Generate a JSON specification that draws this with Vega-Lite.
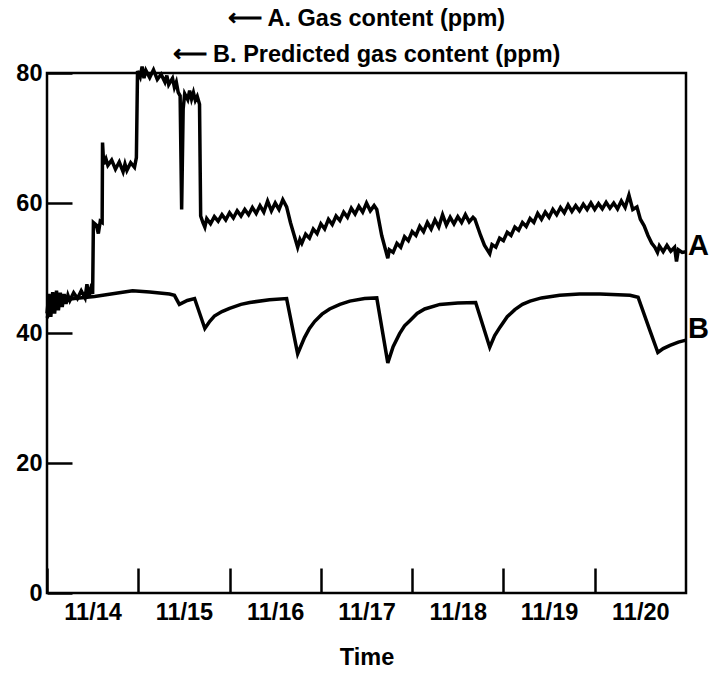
{
  "$schema": "https://vega.github.io/schema/vega-lite/v6.json",
  "width": 639,
  "height": 520,
  "autosize": "none",
  "padding": {"left": 47, "top": 73, "right": 25, "bottom": 80},
  "background": "white",
  "config": {
    "font": "Liberation Sans",
    "view": {"stroke": "black", "strokeWidth": 2.5},
    "axis": {"grid": false, "domain": false, "labelFont": "Liberation Sans", "titleFont": "Liberation Sans", "labelFontWeight": "bold", "titleFontWeight": "bold", "labelColor": "black", "titleColor": "black", "tickColor": "black", "tickWidth": 2.5, "labelFontSize": 23.5, "titleFontSize": 23.5}
  },
  "title": {
    "text": "⟵ A. Gas content (ppm)",
    "subtitle": "⟵ B. Predicted gas content (ppm)",
    "anchor": "middle",
    "frame": "group",
    "font": "Liberation Sans",
    "subtitleFont": "Liberation Sans",
    "fontSize": 23.5,
    "subtitleFontSize": 23.5,
    "fontWeight": "bold",
    "subtitleFontWeight": "bold",
    "color": "black",
    "subtitleColor": "black",
    "offset": -7,
    "subtitlePadding": 13
  },
  "datasets": {
    "a": [
      {"t": 0, "ppm": 43.0}, {"t": 0.5, "ppm": 46.0}, {"t": 1, "ppm": 42.5}, {"t": 1.5, "ppm": 46.3}, {"t": 2, "ppm": 43.0}, {"t": 2.5, "ppm": 46.5}, {"t": 3, "ppm": 43.5}, {"t": 3.5, "ppm": 46.2}, {"t": 4, "ppm": 44.0}, {"t": 4.5, "ppm": 46.0}, {"t": 5, "ppm": 44.5}, {"t": 5.5, "ppm": 45.8}, {"t": 6, "ppm": 45.0}, {"t": 7, "ppm": 46.2}, {"t": 8, "ppm": 45.3}, {"t": 9, "ppm": 46.5}, {"t": 10, "ppm": 45.4}, {"t": 10.5, "ppm": 47.5}, {"t": 11, "ppm": 45.6}, {"t": 11.5, "ppm": 46.8}, {"t": 12, "ppm": 46.0},
      {"t": 12.2, "ppm": 57.0}, {"t": 13, "ppm": 56.6}, {"t": 13.5, "ppm": 55.3}, {"t": 14, "ppm": 57.2}, {"t": 14.5, "ppm": 57.0},
      {"t": 14.6, "ppm": 69.3}, {"t": 14.9, "ppm": 66.0}, {"t": 15.5, "ppm": 66.8}, {"t": 16, "ppm": 65.8}, {"t": 17, "ppm": 66.6}, {"t": 18, "ppm": 65.2}, {"t": 19, "ppm": 66.3}, {"t": 20, "ppm": 64.8}, {"t": 20.5, "ppm": 66.0}, {"t": 21, "ppm": 65.0}, {"t": 22, "ppm": 66.2}, {"t": 23, "ppm": 65.5}, {"t": 23.5, "ppm": 67.0},
      {"t": 23.8, "ppm": 80.3}, {"t": 24.5, "ppm": 79.4}, {"t": 25, "ppm": 81.0}, {"t": 25.5, "ppm": 79.2}, {"t": 26, "ppm": 80.4}, {"t": 27, "ppm": 79.3}, {"t": 28, "ppm": 80.5}, {"t": 29, "ppm": 79.0}, {"t": 30, "ppm": 79.8}, {"t": 31, "ppm": 78.6}, {"t": 31.5, "ppm": 79.6}, {"t": 32, "ppm": 78.2}, {"t": 33, "ppm": 79.2}, {"t": 33.5, "ppm": 77.8}, {"t": 34, "ppm": 78.6}, {"t": 34.5, "ppm": 77.0}, {"t": 35, "ppm": 76.5},
      {"t": 35.4, "ppm": 59.0}, {"t": 35.8, "ppm": 74.5}, {"t": 36.2, "ppm": 76.8}, {"t": 37, "ppm": 75.9}, {"t": 37.5, "ppm": 77.3}, {"t": 38, "ppm": 76.0}, {"t": 38.5, "ppm": 77.0}, {"t": 39, "ppm": 75.8}, {"t": 39.5, "ppm": 76.4}, {"t": 40.1, "ppm": 75.2},
      {"t": 40.4, "ppm": 58.0}, {"t": 41, "ppm": 57.0}, {"t": 41.5, "ppm": 56.3}, {"t": 42, "ppm": 57.6}, {"t": 43, "ppm": 56.8}, {"t": 44, "ppm": 57.9}, {"t": 45, "ppm": 57.2}, {"t": 46, "ppm": 58.2}, {"t": 47, "ppm": 57.4}, {"t": 48, "ppm": 58.5}, {"t": 49, "ppm": 57.7}, {"t": 50, "ppm": 58.8}, {"t": 51, "ppm": 58.0}, {"t": 52, "ppm": 59.0}, {"t": 53, "ppm": 58.2}, {"t": 54, "ppm": 59.3}, {"t": 55, "ppm": 58.4}, {"t": 56, "ppm": 59.6}, {"t": 57, "ppm": 58.6}, {"t": 58, "ppm": 60.3}, {"t": 59, "ppm": 58.8}, {"t": 60, "ppm": 60.0}, {"t": 61, "ppm": 59.0}, {"t": 62, "ppm": 60.5}, {"t": 63, "ppm": 59.4},
      {"t": 64, "ppm": 57.0}, {"t": 65, "ppm": 55.0}, {"t": 65.9, "ppm": 53.2}, {"t": 66.5, "ppm": 54.4}, {"t": 67, "ppm": 53.8}, {"t": 68, "ppm": 55.2}, {"t": 69, "ppm": 54.6}, {"t": 70, "ppm": 56.0}, {"t": 71, "ppm": 55.3}, {"t": 72, "ppm": 56.8}, {"t": 73, "ppm": 56.0}, {"t": 74, "ppm": 57.5}, {"t": 75, "ppm": 56.7}, {"t": 76, "ppm": 58.0}, {"t": 77, "ppm": 57.3}, {"t": 78, "ppm": 58.6}, {"t": 79, "ppm": 57.8}, {"t": 80, "ppm": 59.2}, {"t": 81, "ppm": 58.3}, {"t": 82, "ppm": 59.5}, {"t": 83, "ppm": 58.6}, {"t": 84, "ppm": 60.0}, {"t": 85, "ppm": 58.8}, {"t": 86, "ppm": 59.6}, {"t": 86.7, "ppm": 59.0},
      {"t": 88, "ppm": 55.0}, {"t": 89.6, "ppm": 51.5}, {"t": 90, "ppm": 52.8}, {"t": 91, "ppm": 52.4}, {"t": 92, "ppm": 53.8}, {"t": 93, "ppm": 53.2}, {"t": 94, "ppm": 54.8}, {"t": 95, "ppm": 54.2}, {"t": 96, "ppm": 55.6}, {"t": 97, "ppm": 55.0}, {"t": 98, "ppm": 56.4}, {"t": 99, "ppm": 55.6}, {"t": 100, "ppm": 57.0}, {"t": 101, "ppm": 56.0}, {"t": 102, "ppm": 57.4}, {"t": 103, "ppm": 56.3}, {"t": 104, "ppm": 58.2}, {"t": 105, "ppm": 56.6}, {"t": 106, "ppm": 57.8}, {"t": 107, "ppm": 56.8}, {"t": 108, "ppm": 57.9}, {"t": 109, "ppm": 57.0}, {"t": 110, "ppm": 58.2}, {"t": 111, "ppm": 57.1}, {"t": 112, "ppm": 57.8}, {"t": 112.5, "ppm": 57.5},
      {"t": 114, "ppm": 55.0}, {"t": 115, "ppm": 53.5}, {"t": 116.4, "ppm": 52.2}, {"t": 117, "ppm": 53.6}, {"t": 118, "ppm": 53.2}, {"t": 119, "ppm": 54.6}, {"t": 120, "ppm": 54.2}, {"t": 121, "ppm": 55.5}, {"t": 122, "ppm": 55.0}, {"t": 123, "ppm": 56.3}, {"t": 124, "ppm": 55.8}, {"t": 125, "ppm": 57.0}, {"t": 126, "ppm": 56.4}, {"t": 127, "ppm": 57.6}, {"t": 128, "ppm": 57.0}, {"t": 129, "ppm": 58.4}, {"t": 130, "ppm": 57.5}, {"t": 131, "ppm": 58.6}, {"t": 132, "ppm": 57.8}, {"t": 133, "ppm": 59.0}, {"t": 134, "ppm": 58.2}, {"t": 135, "ppm": 59.3}, {"t": 136, "ppm": 58.5}, {"t": 137, "ppm": 59.7}, {"t": 138, "ppm": 58.7}, {"t": 139, "ppm": 59.6}, {"t": 140, "ppm": 58.8}, {"t": 141, "ppm": 59.8}, {"t": 142, "ppm": 59.0}, {"t": 143, "ppm": 60.0}, {"t": 144, "ppm": 59.0}, {"t": 145, "ppm": 59.9}, {"t": 146, "ppm": 59.1}, {"t": 147, "ppm": 60.1}, {"t": 148, "ppm": 59.2}, {"t": 149, "ppm": 60.0}, {"t": 150, "ppm": 59.1}, {"t": 151, "ppm": 60.3}, {"t": 152, "ppm": 59.3}, {"t": 153, "ppm": 61.2}, {"t": 154, "ppm": 59.0}, {"t": 155.1, "ppm": 59.4},
      {"t": 156, "ppm": 57.5}, {"t": 157, "ppm": 56.5}, {"t": 158, "ppm": 55.0}, {"t": 159, "ppm": 53.8}, {"t": 159.8, "ppm": 53.2}, {"t": 160.5, "ppm": 52.4}, {"t": 161, "ppm": 53.4}, {"t": 162, "ppm": 52.5}, {"t": 163, "ppm": 53.5}, {"t": 164, "ppm": 52.6}, {"t": 165, "ppm": 53.2}, {"t": 165.5, "ppm": 51.0}, {"t": 166, "ppm": 52.8}, {"t": 167, "ppm": 52.4}, {"t": 168, "ppm": 52.5}
    ],
    "b": [
      {"t": 0, "ppm": 42.3}, {"t": 1.4, "ppm": 44.0}, {"t": 3.3, "ppm": 45.0}, {"t": 7.2, "ppm": 45.3}, {"t": 12.5, "ppm": 45.6}, {"t": 19, "ppm": 46.2}, {"t": 22.5, "ppm": 46.5}, {"t": 27, "ppm": 46.3}, {"t": 32.2, "ppm": 46.0}, {"t": 33.5, "ppm": 45.8}, {"t": 34.8, "ppm": 44.4}, {"t": 36.9, "ppm": 45.0}, {"t": 38.8, "ppm": 45.3},
      {"t": 41.5, "ppm": 40.7}, {"t": 42.8, "ppm": 41.8}, {"t": 44, "ppm": 42.6}, {"t": 46, "ppm": 43.3}, {"t": 48, "ppm": 43.8}, {"t": 51, "ppm": 44.4}, {"t": 53.3, "ppm": 44.7}, {"t": 58.5, "ppm": 45.1}, {"t": 63, "ppm": 45.3},
      {"t": 65.9, "ppm": 36.8}, {"t": 67.7, "ppm": 39.3}, {"t": 69, "ppm": 40.7}, {"t": 70.4, "ppm": 41.8}, {"t": 72.3, "ppm": 42.9}, {"t": 74.3, "ppm": 43.7}, {"t": 77, "ppm": 44.4}, {"t": 79.6, "ppm": 44.9}, {"t": 83.5, "ppm": 45.3}, {"t": 86.7, "ppm": 45.4},
      {"t": 89.6, "ppm": 35.4}, {"t": 91, "ppm": 37.9}, {"t": 92.7, "ppm": 39.9}, {"t": 94, "ppm": 41.1}, {"t": 95.4, "ppm": 41.9}, {"t": 97.3, "ppm": 43.0}, {"t": 99.3, "ppm": 43.7}, {"t": 103.3, "ppm": 44.4}, {"t": 108, "ppm": 44.6}, {"t": 112.7, "ppm": 44.7},
      {"t": 116.4, "ppm": 37.8}, {"t": 117.7, "ppm": 39.6}, {"t": 119.1, "ppm": 40.9}, {"t": 121, "ppm": 42.5}, {"t": 123, "ppm": 43.6}, {"t": 125, "ppm": 44.4}, {"t": 127, "ppm": 44.9}, {"t": 130, "ppm": 45.4}, {"t": 134.8, "ppm": 45.8}, {"t": 140, "ppm": 46.0}, {"t": 145.4, "ppm": 46.0}, {"t": 153.3, "ppm": 45.8}, {"t": 155.4, "ppm": 45.5},
      {"t": 158.5, "ppm": 40.4}, {"t": 160.6, "ppm": 37.0}, {"t": 162, "ppm": 37.6}, {"t": 163.8, "ppm": 38.1}, {"t": 166, "ppm": 38.6}, {"t": 168, "ppm": 38.9}
    ],
    "labels": [
      {"t": 168, "ppm": 52.0, "label": "A"},
      {"t": 168, "ppm": 39.2, "label": "B"}
    ]
  },
  "encoding": {
    "x": {
      "field": "t", "type": "quantitative",
      "scale": {"domain": [0, 168], "nice": false, "zero": false},
      "axis": {"title": "Time", "values": [0, 24, 48, 72, 96, 120, 144], "labelExpr": "'11/' + (14 + datum.value / 24)", "labelOffset": 45.6, "labelFlush": false, "labelOverlap": false, "labelBound": false, "tickSize": -25, "labelPadding": 32, "titlePadding": 22}
    },
    "y": {
      "field": "ppm", "type": "quantitative",
      "scale": {"domain": [0, 80], "nice": false},
      "axis": {"title": null, "values": [0, 20, 40, 60, 80], "tickSize": -25, "labelPadding": 30, "labelFlush": false, "labelOverlap": false}
    }
  },
  "layer": [
    {"data": {"name": "a"}, "mark": {"type": "line", "color": "black", "strokeWidth": 3.5, "strokeJoin": "miter", "clip": false}},
    {"data": {"name": "b"}, "mark": {"type": "line", "color": "black", "strokeWidth": 3.5, "clip": false}},
    {"data": {"name": "labels"}, "mark": {"type": "text", "align": "left", "baseline": "alphabetic", "dx": 2, "fontSize": 29, "fontWeight": "bold", "font": "Liberation Sans", "color": "black"}, "encoding": {"text": {"field": "label", "type": "nominal"}}}
  ]
}
